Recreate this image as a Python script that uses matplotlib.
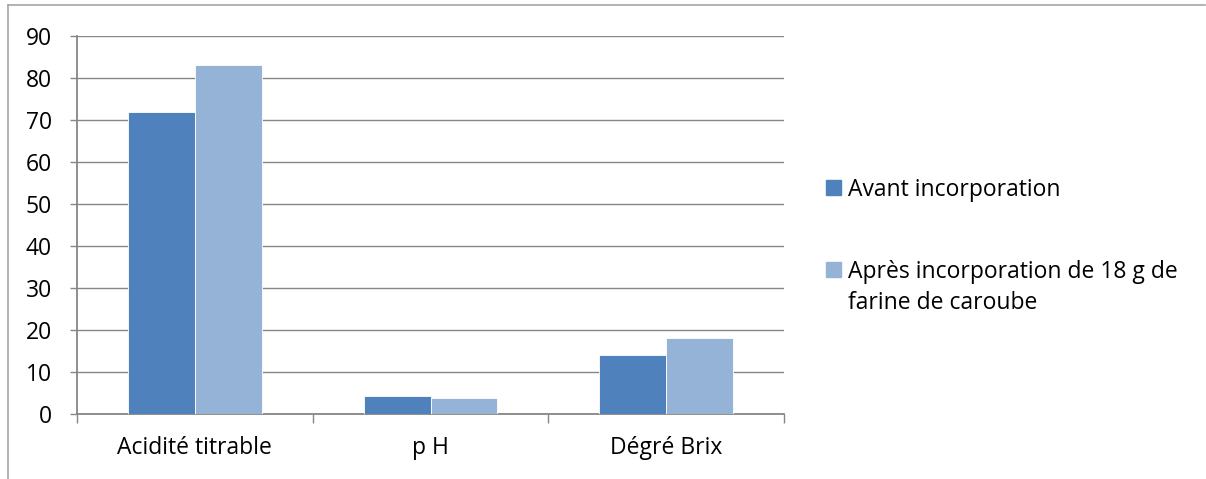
import numpy as np
import matplotlib.pyplot as plt
from matplotlib.lines import Line2D
from matplotlib.patches import Rectangle

categories = ["Acidité titrable", "p H", "Dégré Brix"]
avant = [72, 4.2, 14]
apres = [83, 3.8, 18]
series_names = ["Avant incorporation", "Après incorporation de 18 g de\nfarine de caroube"]
colors = ["#4F81BD", "#95B3D7"]

plt.rcParams["font.family"] = ["Open Sans", "DejaVu Sans"]
plt.rcParams["font.size"] = 16

fig = plt.figure(figsize=(12.06, 4.79), dpi=100)
W, H = 1206, 479
ax = fig.add_axes([77 / W, 1 - 414 / H, (784 - 77) / W, (414 - 36) / H])

x = np.arange(len(categories))
bw = 0.283
ax.bar(x - bw / 2, avant, bw, color=colors[0], edgecolor="white", linewidth=0.6, zorder=3)
ax.bar(x + bw / 2, apres, bw, color=colors[1], edgecolor="white", linewidth=0.6, zorder=3)

ax.set_xlim(-0.5, len(categories) - 0.5)
ax.set_ylim(0, 90)
ax.set_yticks(np.arange(0, 91, 10))
ax.yaxis.grid(True, color="#868686", linewidth=1, zorder=0)

# category ticks sit between groups
ax.set_xticks(np.arange(-0.5, len(categories)), minor=False)
ax.set_xticklabels([])
ax.set_xticks(x, minor=True)
ax.set_xticklabels(categories, minor=True, fontsize=16.5)
ax.tick_params(axis="x", which="major", length=6.5, color="#868686", width=1)
ax.tick_params(axis="x", which="minor", length=0, pad=16)
ax.tick_params(axis="y", length=5, color="#868686", width=1, pad=13, labelsize=16.5)

for side in ["top", "right"]:
    ax.spines[side].set_visible(False)
for side in ["left", "bottom"]:
    ax.spines[side].set_color("#868686")
    ax.spines[side].set_linewidth(1.3)

# legend drawn by hand so the square lines up with the first text line
square_top = [180, 262]
baselines = [[196], [278, 309]]
for i, name in enumerate(series_names):
    fig.add_artist(Rectangle((826 / W, 1 - (square_top[i] + 15) / H), 15 / W, 15 / H,
                             transform=fig.transFigure, color=colors[i]))
    for line, b in zip(name.split("\n"), baselines[i]):
        fig.text(848 / W, 1 - b / H, line, va="baseline", ha="left", fontsize=16.5)

# chart frame
fig.add_artist(Line2D([8 / W, 1205 / W], [1 - 5 / H, 1 - 5 / H], color="#a6a6a6", lw=1.2,
                      transform=fig.transFigure))
fig.add_artist(Line2D([8 / W, 8 / W], [1 - 5 / H, 0], color="#a6a6a6", lw=1.2,
                      transform=fig.transFigure))

fig.savefig("out.png", dpi=100)
